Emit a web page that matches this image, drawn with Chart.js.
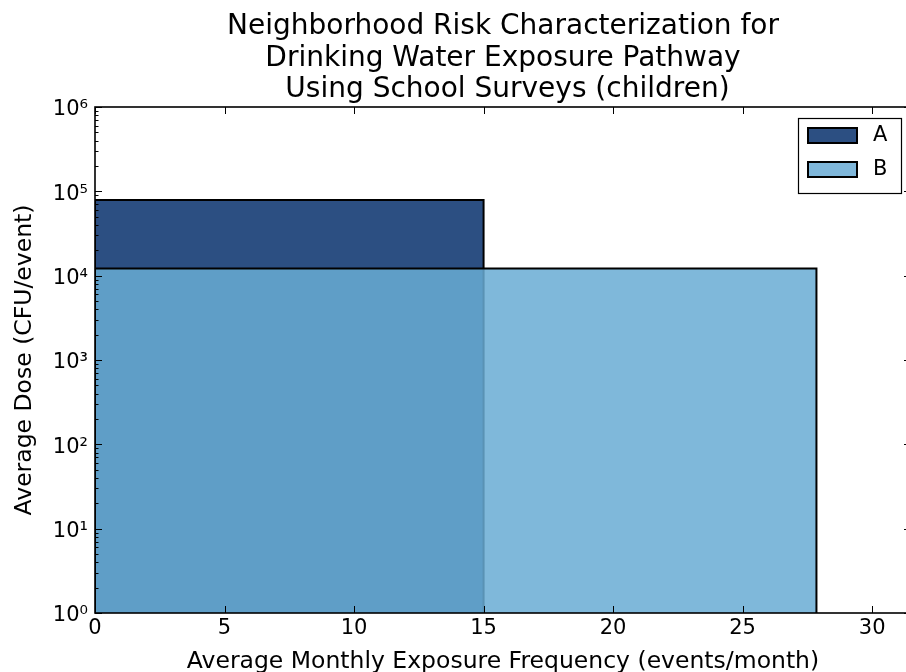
<!DOCTYPE html>
<html>
<head>
<meta charset="utf-8">
<script src="https://cdn.jsdelivr.net/npm/chart.js@4/dist/chart.umd.min.js"></script>
<style>
  html, body { margin: 0; padding: 0; overflow: hidden; background: #ffffff; }
  canvas { display: block; }
</style>
</head>
<body>
<canvas id="chart" width="912" height="672"></canvas>
<script>
// Neighborhood groups and their average exposure values
const groupNames = ['A', 'B'];
const monthlyFrequency = [15, 27.85];     // events/month
const averageDose = [79000, 12200];       // CFU/event
const xTickValues = [0, 5, 10, 15, 20, 25, 30];
const yTickValues = [1, 10, 100, 1000, 10000, 100000, 1000000];
const groupFills = ['rgb(44,79,130)', 'rgba(105,171,212,0.85)'];
const legendFills = ['rgb(44,79,130)', 'rgb(127,183,218)'];

const FONT = '"DejaVu Sans", "Liberation Sans", sans-serif';
const SUP = ['\u2070', '\u00b9', '\u00b2', '\u00b3', '\u2074', '\u2075', '\u2076', '\u2077', '\u2078', '\u2079'];

// each group is a rectangle from the origin to (frequency, dose)
const datasets = groupNames.map((name, i) => ({
  label: name,
  data: [
    { x: 0, y: yTickValues[0] },
    { x: 0, y: averageDose[i] },
    { x: monthlyFrequency[i], y: averageDose[i] },
    { x: monthlyFrequency[i], y: yTickValues[0] }
  ],
  backgroundColor: groupFills[i],
  borderColor: '#000000',
  borderWidth: 2,
  pointRadius: 0,
  tension: 0,
  fill: 'start',
  order: groupNames.length - i   // later groups are painted on top
}));

// inward ticks on all four sides plus the axes frame
const framePlugin = {
  id: 'frame',
  afterDatasetsDraw(chart) {
    const { ctx, chartArea: { left, right, top, bottom }, scales: { x, y } } = chart;
    ctx.save();
    ctx.strokeStyle = '#000000';
    ctx.lineWidth = 1;
    const major = 7, minor = 3.5;
    ctx.beginPath();
    xTickValues.forEach(v => {
      const px = Math.round(x.getPixelForValue(v)) + 0.5;
      ctx.moveTo(px, bottom); ctx.lineTo(px, bottom - major);
      ctx.moveTo(px, top); ctx.lineTo(px, top + major);
    });
    yTickValues.forEach((v, k) => {
      const py = Math.round(y.getPixelForValue(v)) + 0.5;
      ctx.moveTo(left, py); ctx.lineTo(left + major, py);
      ctx.moveTo(right, py); ctx.lineTo(right - major, py);
      if (k < yTickValues.length - 1) {
        for (let m = 2; m <= 9; m++) {
          const pm = Math.round(y.getPixelForValue(v * m)) + 0.5;
          ctx.moveTo(left, pm); ctx.lineTo(left + minor, pm);
          ctx.moveTo(right, pm); ctx.lineTo(right - minor, pm);
        }
      }
    });
    ctx.stroke();
    ctx.lineWidth = 1.6;
    ctx.strokeRect(left, top, right - left, bottom - top);
    ctx.restore();
  }
};

// legend box in the upper right corner of the axes
const cornerLegend = {
  id: 'cornerLegend',
  afterDraw(chart) {
    const { ctx, chartArea: { right, top } } = chart;
    const boxW = 103, boxH = 75;
    const bx = right - 10 - boxW, by = top + 11;
    ctx.save();
    ctx.fillStyle = '#ffffff';
    ctx.fillRect(bx, by, boxW, boxH);
    ctx.strokeStyle = '#000000';
    ctx.lineWidth = 1.2;
    ctx.strokeRect(bx + 0.5, by + 0.5, boxW, boxH);
    ctx.font = '21px ' + FONT;
    ctx.textBaseline = 'middle';
    ctx.textAlign = 'left';
    groupNames.forEach((name, i) => {
      const py = by + 10 + i * 34;
      ctx.fillStyle = legendFills[i];
      ctx.fillRect(bx + 10, py, 49, 15);
      ctx.lineWidth = 2;
      ctx.strokeRect(bx + 10, py, 49, 15);
      ctx.fillStyle = '#000000';
      ctx.fillText(name, bx + 75, py + 8);
    });
    ctx.restore();
  }
};

new Chart(document.getElementById('chart'), {
  type: 'line',
  data: { datasets },
  plugins: [framePlugin, cornerLegend],
  options: {
    responsive: false,
    animation: false,
    events: [],
    layout: { padding: { top: 0, right: 1, bottom: 0, left: 0 } },
    plugins: {
      legend: { display: false },
      tooltip: { enabled: false },
      title: {
        display: true,
        fullSize: false,
        text: ['Neighborhood Risk Characterization for', 'Drinking Water Exposure Pathway', ' Using School Surveys (children)'],
        color: '#000000',
        font: { family: FONT, size: 28, weight: 'normal', lineHeight: 1.125 },
        padding: { top: 11, bottom: 1.5 }
      }
    },
    scales: {
      x: {
        type: 'linear',
        min: 0,
        max: 31.5,
        grid: { display: false, drawTicks: false },
        border: { display: false },
        afterFit(scale) { scale.height = 59; },
        ticks: {
          stepSize: 5,
          includeBounds: false,
          autoSkip: false,
          maxRotation: 0,
          padding: 3,
          color: '#000000',
          font: { family: FONT, size: 21 }
        },
        title: {
          display: true,
          text: 'Average Monthly Exposure Frequency (events/month)',
          color: '#000000',
          font: { family: FONT, size: 23.5, lineHeight: 1 },
          padding: { top: 0, bottom: -2 }
        }
      },
      y: {
        type: 'logarithmic',
        min: yTickValues[0],
        max: yTickValues[yTickValues.length - 1],
        grid: { display: false, drawTicks: false },
        border: { display: false },
        afterFit(scale) { scale.width = 95; },
        afterBuildTicks(scale) { scale.ticks = yTickValues.map(v => ({ value: v })); },
        ticks: {
          autoSkip: false,
          padding: 7,
          labelOffset: 3,
          color: '#000000',
          font: { family: FONT, size: 21 },
          callback: v => '10' + SUP[Math.round(Math.log10(v))]
        },
        title: {
          display: true,
          text: 'Average Dose (CFU/event)',
          color: '#000000',
          font: { family: FONT, size: 23.5, lineHeight: 1 },
          padding: { top: 13, bottom: 0 }
        }
      }
    }
  }
});
</script>
</body>
</html>
